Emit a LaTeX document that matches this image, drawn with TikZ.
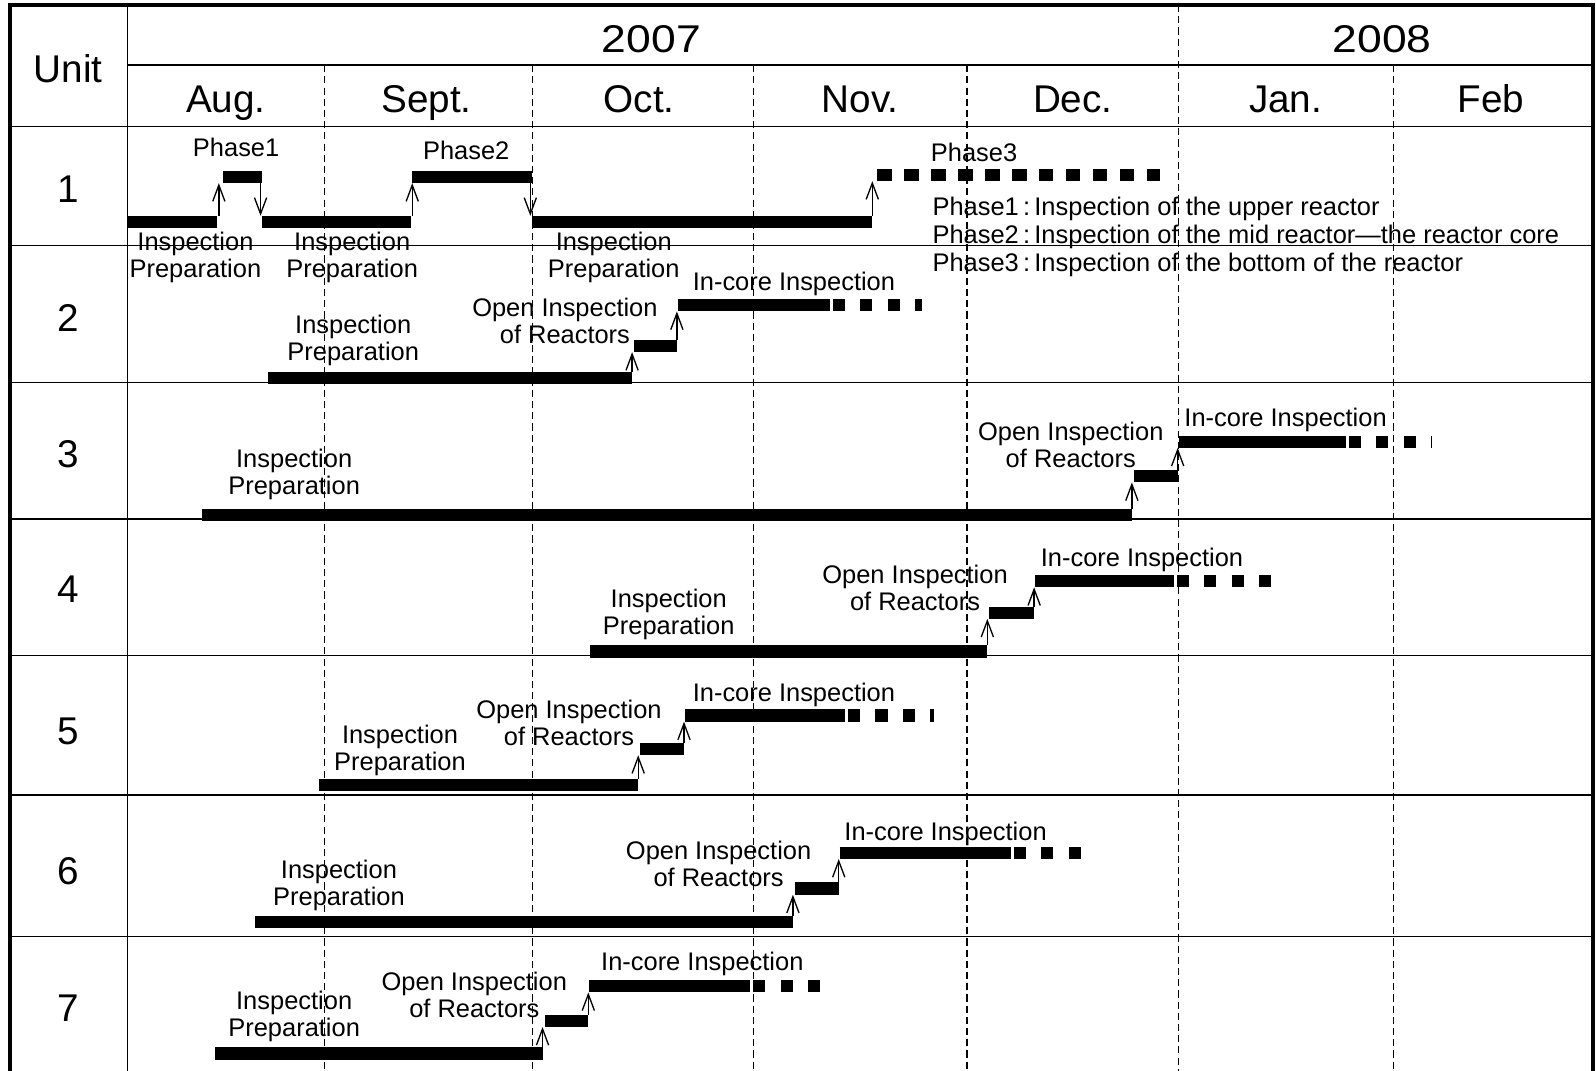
\documentclass[tikz,border=0pt]{standalone}
\usepackage{fontspec}
\setmainfont{Liberation Sans}
\usepackage{tikz}
\usetikzlibrary{arrows.meta}

\tikzset{
  bigtext/.style={font=\fontsize{38}{40}\selectfont, anchor=base, inner sep=0pt},
  smalltext/.style={font=\fontsize{25}{26.5}\selectfont, align=center, inner sep=0pt},
  gridline/.style={line width=1.3pt},
  frame/.style={line width=3.5pt},
  monthline/.style={line width=1.4pt, dash pattern=on 7pt off 4pt},
  workbar/.style={line width=12pt},
  todo/.style={line width=12pt, dash pattern=on 12pt off 15pt},
  steparrow/.style={line width=1.3pt, -{Straight Barb[length=16pt,width=12pt]}},
}

\begin{document}
\begin{tikzpicture}[x=1pt, y=-1pt]
\useasboundingbox (0,0) rectangle (1568,1052);
% month boundaries
\foreach \mx in {319,523,740,950,1369}
  \draw[monthline] (\mx,64) -- (\mx,1052);
\draw[monthline] (1158,5) -- (1158,1052);
% table
\draw[gridline] (125,5) -- (125,1052);
\draw[gridline] (125,64) -- (1565,64);
\foreach \ry in {124,241,376,510,644,781,920}
  \draw[gridline] (10,\ry) -- (1565,\ry);
\draw[frame] (10,1052) -- (10,5) -- (1565,5) -- (1565,1052);
% header
\node[bigtext] (unit) at (67,81) {Unit};
\node[bigtext, xscale=1.15] (yr2007) at (640,52) {2007};
\node[bigtext, xscale=1.15] (yr2008) at (1358,52) {2008};
\foreach \m/\mx in {Aug./222, Sept./419, Oct./628, Nov./845, Dec./1054, Jan./1263, Feb/1465}
  \node[bigtext] (m\mx) at (\mx,111) {\m};
\foreach \n/\ny in {1/199, 2/326, 3/459, 4/592, 5/731, 6/869, 7/1004}
  \node[bigtext] (u\n) at (67,\ny) {\n};

% unit 1: three phases
\draw[workbar] (125,218) -- (213,218);
\draw[workbar] (219,174) -- (257,174);
\draw[workbar] (257,218) -- (404,218);
\draw[workbar] (405,174) -- (523,174);
\draw[workbar] (523,218) -- (857,218);
\draw[todo, dash pattern=on 14pt off 12.5pt] (862,172) -- (1140,172);
\draw[steparrow] (215,212) -- (215,180);
\draw[steparrow] (256,180) -- (256,212);
\draw[steparrow] (405,212) -- (405,180);
\draw[steparrow] (521,180) -- (521,212);
\draw[steparrow] (857,212) -- (857,178);
\node[smalltext] (ph1) at (232,145) {Phase1};
\node[smalltext] (ph2) at (458,148) {Phase2};
\node[smalltext] (ph3) at (957,150) {Phase3};
\foreach \px/\k in {192/a, 346/b, 603/c}
  \node[smalltext] (prep1\k) at (\px,253) {Inspection\\Preparation};
\node[smalltext, anchor=base west] (key1) at (916,212) {Phase1\,:\,Inspection of the upper reactor};
\node[smalltext, anchor=base west] (key2) at (916,239.5) {Phase2\,:\,Inspection of the mid reactor---the reactor core};
\node[smalltext, anchor=base west] (key3) at (916,267) {Phase3\,:\,Inspection of the bottom of the reactor};

% units 2-7: preparation, open inspection, in-core inspection
\foreach \r/\xa/\xb/\yp/\xc/\yo/\yi/\xd/\xe in {
    2/263/621/371/665/340/300/815/906,
    3/198/1112/506/1157/468/434/1322/1407,
    4/580/970/640/1016/602/571/1153/1257,
    5/313/627/771/672/736/703/830/918,
    6/251/779/906/824/873/838/993/1069,
    7/211/533/1035/578/1003/969/737/813} {
  \draw[workbar] (\xa,\yp) -- (\xb,\yp);
  \draw[workbar] (\xb+2,\yo) -- (\xc,\yo);
  \draw[workbar] (\xc+1,\yi) -- (\xd,\yi);
  \draw[todo] (\xd+3,\yi) -- (\xe,\yi);
  \draw[steparrow] (\xb,\yp-6) -- (\xb,\yo+6);
  \draw[steparrow] (\xc,\yo-6) -- (\xc,\yi+6);
}
\foreach \r/\px/\py/\ox/\oy/\ix/\iy in {
    2/347/334/555/315/780/279,
    3/289/466/1052/437/1263/413,
    4/657/604/899/578/1122/550,
    5/393/737/559/710/780/683,
    6/333/870/706/849/929/819,
    7/289/999/466/977/690/947} {
  \node[smalltext] (prep\r) at (\px,\py) {Inspection\\Preparation};
  \node[smalltext] (open\r) at (\ox,\oy) {Open Inspection\\of Reactors};
  \node[smalltext] (core\r) at (\ix,\iy) {In-core Inspection};
}
\end{tikzpicture}
\end{document}
